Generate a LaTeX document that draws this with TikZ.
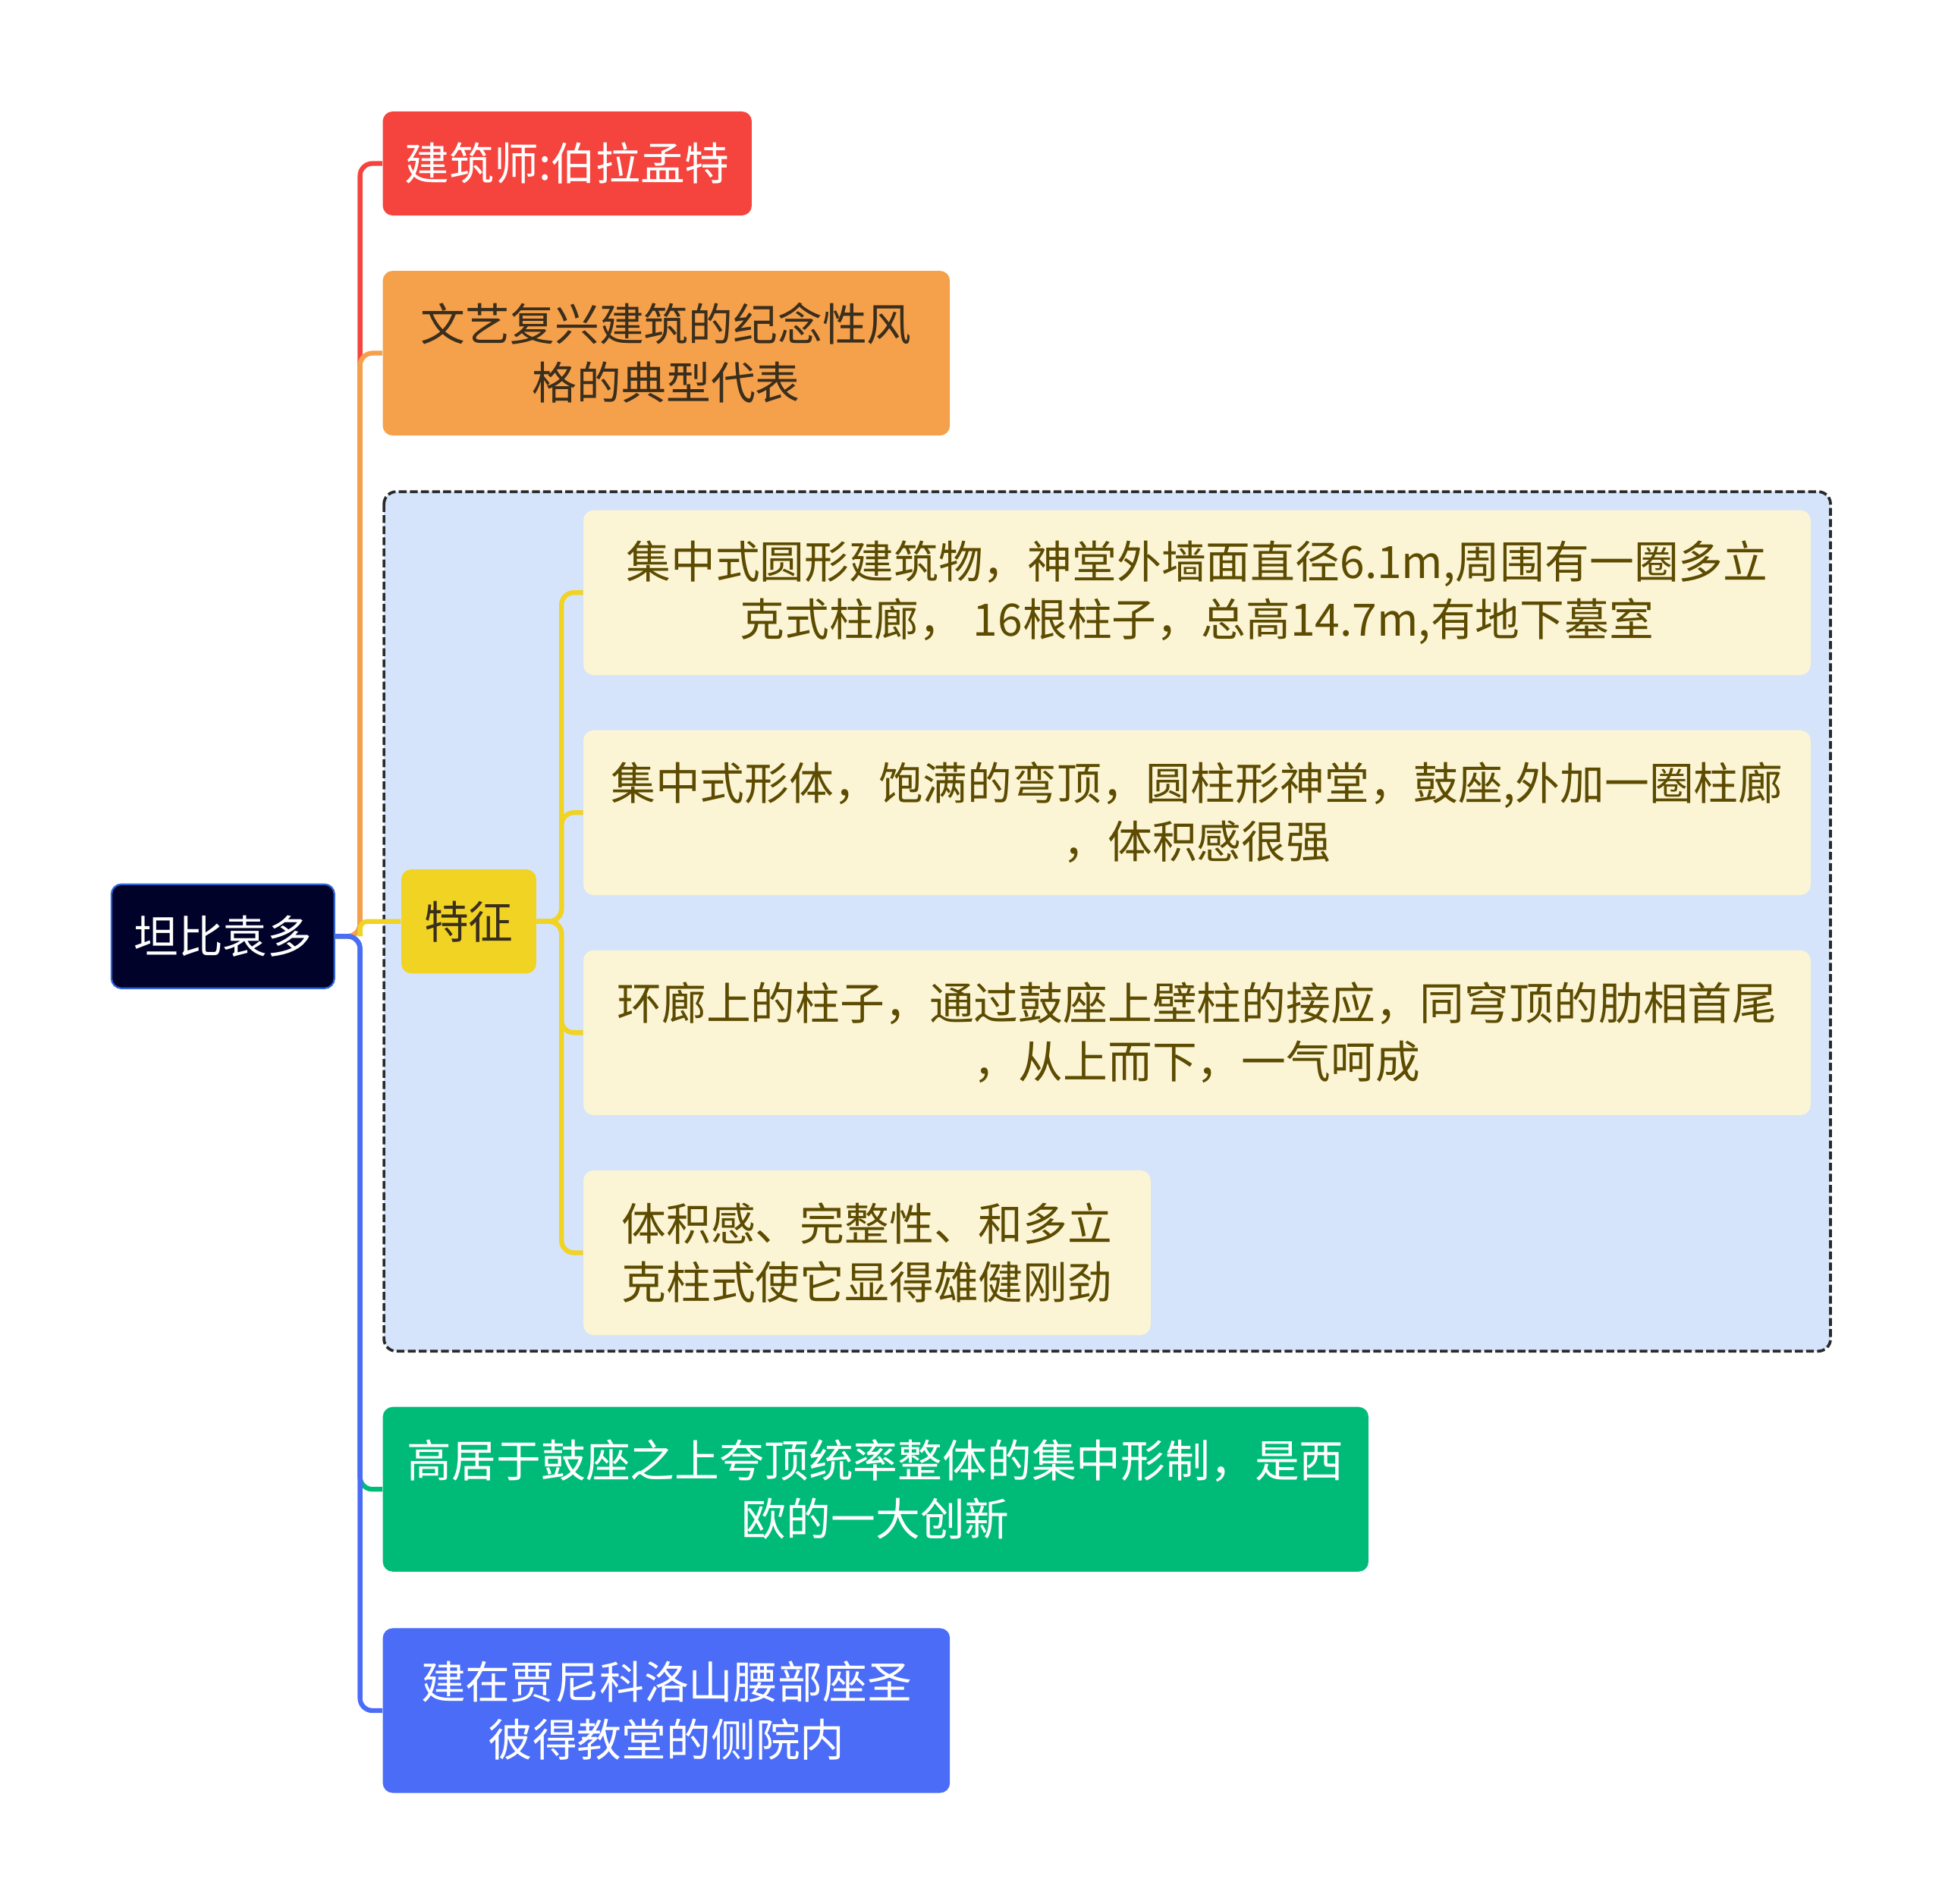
\documentclass[tikz,border=0pt]{standalone}
\usepackage{fontspec}
\setmainfont{Noto Sans CJK SC}
\usepackage{xcolor}
\usetikzlibrary{positioning}
\definecolor{rootfill}{HTML}{000229}
\definecolor{rootline}{HTML}{2F63D8}
\definecolor{redbox}{HTML}{F5443D}
\definecolor{orangebox}{HTML}{F5A04B}
\definecolor{yellowbox}{HTML}{F0D323}
\definecolor{leaffill}{HTML}{FBF5D5}
\definecolor{leaftext}{HTML}{5C4B00}
\definecolor{groupfill}{HTML}{D5E4FB}
\definecolor{groupline}{HTML}{2A2A2A}
\definecolor{greenbox}{HTML}{00BB78}
\definecolor{bluebox}{HTML}{4A6CF7}
\definecolor{darktext}{HTML}{3A2E1C}

\begin{document}
\begin{tikzpicture}[x=0.02cm, y=-0.02cm, node distance=0.88cm,
	topic/.style={rectangle, rounded corners=0.16cm, align=center, inner sep=0pt,
		font=\fontsize{20.5pt}{26.8pt}\selectfont},
	centre/.style={topic, fill=rootfill, draw=rootline, line width=0.8pt, text=white,
		minimum width=3.6cm, minimum height=1.68cm},
	sub/.style={topic, minimum height=2.66cm, minimum width=9.16cm},
	leaf/.style={topic, fill=leaffill, text=leaftext, minimum height=2.66cm, minimum width=19.82cm},
	branch/.style={line width=2.2pt, rounded corners=0.2cm},
	groupbox/.style={fill=groupfill, draw=groupline, line width=1.3pt, rounded corners=0.2cm,
		dash pattern=on 3.6pt off 1.5pt}]
	\useasboundingbox (0,0) rectangle (1568,1537);
	\draw[groupbox] (310,397) rectangle (1478,1091);

	\node[centre] (root) at (180,756) {坦比袁多};
	\node[topic, fill=redbox, text=white, minimum width=5.96cm, minimum height=1.68cm] (arch) at (458,132) {建筑师:伯拉孟特};
	\node[sub, fill=orangebox, text=darktext] (style) [below=of arch.south west, anchor=north west] {文艺复兴建筑的纪念性风\\格的典型代表};
	\node[topic, fill=yellowbox, text=darktext, minimum width=2.18cm, minimum height=1.68cm] (feat) at (378.5,744) {特征};

	\node[leaf] (c1) at (966.5,478.5) {集中式圆形建筑物，神堂外墙面直径6.1m,周围有一圈多立\\克式柱廊，\ 16根柱子，总高14.7m,有地下墓室};
	\node[leaf] (c2) [below=of c1] {集中式形体，饱满的弯顶，圆柱形神堂，鼓座,外加一圈柱廊\\，体积感很强};
	\node[leaf] (c3) [below=of c2] {环廊上的柱子，通过鼓座上壁柱的接应，同穹顶的肋相首尾\\，从上而下，一气呵成};
	\node[leaf, minimum width=9.16cm] (c4) [below=0.88cm of c3.south west, anchor=north west] {体积感、完整性、和多立\\克柱式使它显得雄健刚劲};

	\node[sub, fill=greenbox, text=white, minimum width=15.92cm] (west) at (707,1202.5) {高居于鼓座之上夸顶统率整体的集中形制，是西\\欧的一大创新};
	\node[sub, fill=bluebox, text=white] (site) [below=0.9cm of west.south west, anchor=north west] {建在贾尼科洛山腰部座圣\\彼得教堂的侧院内};

	\draw[branch, redbox] (root.east) -- ++(20,0) |- (arch.west);
	\draw[branch, orangebox] (root.east) -- ++(20,0) |- (style.west);
	\draw[branch, greenbox] (root.east) -- ++(20,0) |- (west.west);
	\draw[branch, bluebox] (root.east) -- ++(20,0) |- (site.west);
	\draw[branch, yellowbox, rounded corners=0.12cm] (root.east) ++(20,0) |- (feat.west);
	\foreach \c in {c1,c2,c3,c4}
		\draw[branch, yellowbox] (feat.east) -- ++(20,0) |- (\c.west);
\end{tikzpicture}
\end{document}
